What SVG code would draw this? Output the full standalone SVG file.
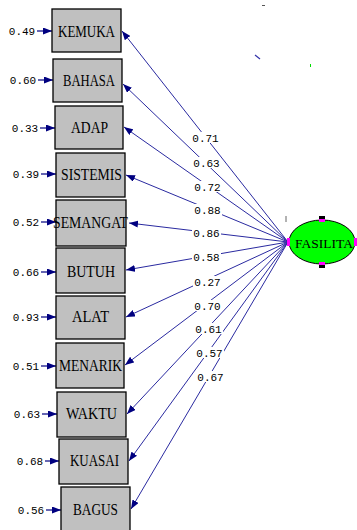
<svg xmlns="http://www.w3.org/2000/svg" width="357" height="530" viewBox="0 0 357 530">
<style>
.box{fill:#c0c0c0;stroke:#000;stroke-width:1.3}
.lbl{font-family:"Liberation Serif",serif;font-size:16px;fill:#000;text-anchor:middle}
.num{font-family:"Liberation Mono",monospace;font-size:11px;fill:#000;text-anchor:middle}
.ld{stroke:#2a2aa0;stroke-width:1;fill:none}
.er{stroke:#000080;stroke-width:1.2;fill:none}
.bg{fill:#fff}
</style>
<defs>
<marker id="ah" markerUnits="userSpaceOnUse" markerWidth="9" markerHeight="7" refX="9" refY="3.5" orient="auto">
<path d="M0,0 L9,3.5 L0,7 z" fill="#000080"/>
</marker>
</defs>
<rect width="357" height="530" fill="#fff"/>
<g id="connectors">
<line class="ld" x1="288" y1="242" x2="122" y2="31" marker-end="url(#ah)"/>
<line class="ld" x1="288" y1="242" x2="123" y2="84" marker-end="url(#ah)"/>
<line class="ld" x1="288" y1="242" x2="124" y2="127" marker-end="url(#ah)"/>
<line class="ld" x1="288" y1="242" x2="126" y2="175" marker-end="url(#ah)"/>
<line class="ld" x1="288" y1="242" x2="129" y2="223" marker-end="url(#ah)"/>
<line class="ld" x1="288" y1="242" x2="126" y2="270" marker-end="url(#ah)"/>
<line class="ld" x1="288" y1="242" x2="126" y2="317" marker-end="url(#ah)"/>
<line class="ld" x1="288" y1="242" x2="125" y2="365" marker-end="url(#ah)"/>
<line class="ld" x1="288" y1="242" x2="127" y2="414" marker-end="url(#ah)"/>
<line class="ld" x1="288" y1="242" x2="129" y2="461" marker-end="url(#ah)"/>
<line class="ld" x1="288" y1="242" x2="131" y2="509" marker-end="url(#ah)"/>
<rect class="bg" x="191" y="132" width="29" height="11"/><text class="num" x="205.5" y="141.5">0.71</text>
<rect class="bg" x="192" y="157" width="29" height="11"/><text class="num" x="206.5" y="166.5">0.63</text>
<rect class="bg" x="193" y="181" width="29" height="11"/><text class="num" x="207.5" y="190.5">0.72</text>
<rect class="bg" x="193" y="204" width="29" height="11"/><text class="num" x="207.5" y="213.5">0.88</text>
<rect class="bg" x="192" y="227" width="29" height="11"/><text class="num" x="206.5" y="236.5">0.86</text>
<rect class="bg" x="192" y="251" width="29" height="11"/><text class="num" x="206.5" y="260.5">0.58</text>
<rect class="bg" x="193" y="276" width="29" height="11"/><text class="num" x="207.5" y="285.5">0.27</text>
<rect class="bg" x="193" y="300" width="29" height="11"/><text class="num" x="207.5" y="309.5">0.70</text>
<rect class="bg" x="194" y="323" width="29" height="11"/><text class="num" x="208.5" y="332.5">0.61</text>
<rect class="bg" x="195" y="347" width="29" height="11"/><text class="num" x="209.5" y="356.5">0.57</text>
<rect class="bg" x="196" y="371" width="29" height="11"/><text class="num" x="210.5" y="380.5">0.67</text>
<line class="er" x1="37" y1="31" x2="52" y2="31" marker-end="url(#ah)"/>
<line class="er" x1="38" y1="80" x2="53" y2="80" marker-end="url(#ah)"/>
<line class="er" x1="40" y1="128" x2="55" y2="128" marker-end="url(#ah)"/>
<line class="er" x1="41" y1="174" x2="56" y2="174" marker-end="url(#ah)"/>
<line class="er" x1="41" y1="222" x2="56" y2="222" marker-end="url(#ah)"/>
<line class="er" x1="41" y1="272" x2="56" y2="272" marker-end="url(#ah)"/>
<line class="er" x1="41" y1="317" x2="56" y2="317" marker-end="url(#ah)"/>
<line class="er" x1="41" y1="366" x2="56" y2="366" marker-end="url(#ah)"/>
<line class="er" x1="42" y1="414" x2="57" y2="414" marker-end="url(#ah)"/>
<line class="er" x1="45" y1="461" x2="59" y2="461" marker-end="url(#ah)"/>
<line class="er" x1="46" y1="510" x2="61" y2="510" marker-end="url(#ah)"/>
<text class="num" x="22" y="35">0.49</text>
<text class="num" x="23" y="84">0.60</text>
<text class="num" x="25" y="132">0.33</text>
<text class="num" x="26" y="178">0.39</text>
<text class="num" x="26" y="226">0.52</text>
<text class="num" x="26" y="276">0.66</text>
<text class="num" x="26" y="321">0.93</text>
<text class="num" x="26" y="370">0.51</text>
<text class="num" x="27" y="418">0.63</text>
<text class="num" x="30" y="465">0.68</text>
<text class="num" x="31" y="514">0.56</text>
</g>
<g id="KEMUKA"><rect class="box" x="52" y="9" width="69" height="43"/><text class="lbl" x="86.5" y="37" textLength="57" lengthAdjust="spacingAndGlyphs">KEMUKA</text></g>
<g id="BAHASA"><rect class="box" x="53" y="59" width="69" height="43"/><text class="lbl" x="89" y="86" textLength="52" lengthAdjust="spacingAndGlyphs">BAHASA</text></g>
<g id="ADAP"><rect class="box" x="55" y="106" width="68" height="43"/><text class="lbl" x="89.5" y="133" textLength="37" lengthAdjust="spacingAndGlyphs">ADAP</text></g>
<g id="SISTEMIS"><rect class="box" x="56" y="153" width="69" height="44"/><text class="lbl" x="91.5" y="180" textLength="61" lengthAdjust="spacingAndGlyphs">SISTEMIS</text></g>
<g id="SEMANGAT"><rect class="box" x="56" y="200" width="70" height="46"/><text class="lbl" x="90.5" y="228" textLength="75" lengthAdjust="spacingAndGlyphs">SEMANGAT</text></g>
<g id="BUTUH"><rect class="box" x="56" y="248" width="69" height="45"/><text class="lbl" x="91" y="277" textLength="48" lengthAdjust="spacingAndGlyphs">BUTUH</text></g>
<g id="ALAT"><rect class="box" x="56" y="296" width="69" height="43"/><text class="lbl" x="90.5" y="322" textLength="37" lengthAdjust="spacingAndGlyphs">ALAT</text></g>
<g id="MENARIK"><rect class="box" x="56" y="343" width="68" height="45"/><text class="lbl" x="90.5" y="371" textLength="63" lengthAdjust="spacingAndGlyphs">MENARIK</text></g>
<g id="WAKTU"><rect class="box" x="57" y="392" width="69" height="45"/><text class="lbl" x="91.5" y="419" textLength="51" lengthAdjust="spacingAndGlyphs">WAKTU</text></g>
<g id="KUASAI"><rect class="box" x="59" y="439" width="69" height="45"/><text class="lbl" x="94.5" y="466" textLength="49" lengthAdjust="spacingAndGlyphs">KUASAI</text></g>
<g id="BAGUS"><rect class="box" x="61" y="487" width="69" height="46"/><text class="lbl" x="95.5" y="515" textLength="45" lengthAdjust="spacingAndGlyphs">BAGUS</text></g>
<g id="FASILITA">
<ellipse cx="322" cy="242" rx="33" ry="22" fill="#00ff00" stroke="#000" stroke-width="1"/>
<rect x="287" y="238" width="3" height="8" fill="#ff00ff"/>
<rect x="354" y="238" width="3" height="8" fill="#ff00ff"/>
<rect x="319" y="219" width="6" height="3" fill="#ff00ff"/>
<rect x="319" y="216" width="6" height="3" fill="#000"/>
<rect x="319" y="262" width="6" height="3" fill="#ff00ff"/>
<rect x="319" y="265" width="6" height="3" fill="#000"/>
<text x="324" y="248" font-family="Liberation Serif,serif" font-size="13" text-anchor="middle" textLength="58" lengthAdjust="spacingAndGlyphs">FASILITA</text>
</g>
<line x1="286" y1="216" x2="286" y2="222" stroke="#666" stroke-width="1"/>
<line x1="262" y1="5.5" x2="265" y2="5.5" stroke="#555" stroke-width="1"/>
<line x1="255" y1="55" x2="260" y2="59" stroke="#3333aa" stroke-width="1.2"/>
<line x1="310.5" y1="64" x2="310.5" y2="67" stroke="#00dd00" stroke-width="1"/>
</svg>
